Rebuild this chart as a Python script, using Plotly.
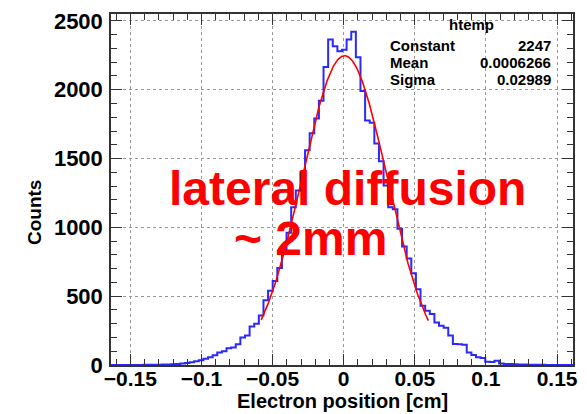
import numpy as np
import plotly.graph_objects as go

# Histogram definition (100 bins)
x_min = -0.1636
x_max = 0.1612
n_bins = 100

counts = [
    0, 0, 0, 0, 0, 0, 0, 1, 1, 2,          # n=-50..-41
    2, 3, 4, 6, 8, 10, 14, 20, 28, 35,     # n=-40..-31
    45, 57, 70, 90, 100, 122, 128, 150, 200, 215,   # n=-30..-21
    280, 300, 360, 470, 540, 610, 705, 830, 960, 1146,  # n=-20..-11
    1268, 1400, 1560, 1683, 1791, 1920, 2165, 2364, 2316, 2280,  # n=-10..-1
    2290, 2364, 2421, 2235, 1990, 1776, 1760, 1610, 1480, 1304,  # n=0..9
    1146, 1132, 989, 860, 774, 666, 550, 430, 394, 370,  # n=10..19
    308, 286, 270, 215, 152, 150, 148, 90, 72, 57,   # n=20..29
    50, 24, 21, 30, 10, 8, 7, 5, 4, 3,     # n=30..39
    2, 2, 1, 1, 0, 0, 0, 0, 0, 0,          # n=40..49
]
assert len(counts) == n_bins

# Gaussian fit parameters (stats box)
fit_constant = 2247
fit_mean = 0.0006266
fit_sigma = 0.02989
fit_range = [-0.058, 0.0595]

stat_names = ["Constant", "Mean", "Sigma"]
stat_values = ["2247", "0.0006266", "0.02989"]

edges = np.linspace(x_min, x_max, n_bins + 1)
step_y = counts + [counts[-1]]

xf = np.linspace(fit_range[0], fit_range[1], 300)
yf = fit_constant * np.exp(-0.5 * ((xf - fit_mean) / fit_sigma) ** 2)

fig = go.Figure()
fig.add_trace(go.Scatter(x=edges, y=step_y, mode="lines", line=dict(color="#2a2aff", width=2, shape="hv"),
                         hoverinfo="skip"))
fig.add_trace(go.Scatter(x=xf, y=yf, mode="lines", line=dict(color="#ff0000", width=1.6),
                         hoverinfo="skip"))

xtickfont = dict(family="Liberation Sans", size=21, color="black", weight="bold")
ytickfont = dict(family="Liberation Sans", size=22, color="black", weight="bold")

fig.update_layout(
    width=587, height=414,
    margin=dict(l=111, r=9, t=9, b=49),
    paper_bgcolor="white", plot_bgcolor="white",
    showlegend=False,
    xaxis=dict(range=[x_min, x_max], tick0=0, dtick=0.05, showline=True, linecolor="#333", linewidth=1.5,
               mirror="allticks", ticks="inside", ticklen=11, tickcolor="#333", tickwidth=1,
               showgrid=True, gridcolor="#999", griddash="dot", gridwidth=1, zeroline=False,
               tickfont=xtickfont, ticklabelstandoff=-6,
               minor=dict(ticks="inside", ticklen=6, dtick=0.01, tickcolor="#333", showgrid=False)),
    yaxis=dict(range=[0, 2550], tick0=0, dtick=500, showline=True, linecolor="#333", linewidth=1.5,
               mirror="allticks", ticks="inside", ticklen=11, tickcolor="#333", tickwidth=1,
               showgrid=True, gridcolor="#999", griddash="dot", gridwidth=1, zeroline=False,
               tickfont=ytickfont, ticklabelstandoff=2,
               minor=dict(ticks="inside", ticklen=6, dtick=100, tickcolor="#333", showgrid=False)),
)

ann = []
# axis titles
ann.append(dict(text="Electron position [cm]", xref="paper", yref="paper", x=(345 - 111) / 467, y=(365 - 402) / 356,
                xanchor="center", yanchor="middle", showarrow=False,
                font=dict(family="Liberation Sans", size=20, color="black", weight="bold")))
ann.append(dict(text="Counts", xref="paper", yref="paper", x=(33 - 111) / 467, y=(365 - 210) / 356,
                xanchor="center", yanchor="middle", showarrow=False, textangle=-90,
                font=dict(family="Liberation Sans", size=19, color="black", weight="bold")))
# stats box
sfont = dict(family="Liberation Sans", size=15, color="black", weight="bold")
ann.append(dict(text="htemp", xref="paper", yref="paper", x=(475 - 111) / 467, y=(365 - 20) / 356,
                xanchor="center", yanchor="middle", showarrow=False, font=sfont))
for i, (nm, val) in enumerate(zip(stat_names, stat_values)):
    yy = (365 - (41 + 17 * i)) / 356
    ann.append(dict(text=nm, xref="paper", yref="paper", x=(391 - 111) / 467, y=yy,
                    xanchor="left", yanchor="middle", showarrow=False, font=sfont))
    ann.append(dict(text=val, xref="paper", yref="paper", x=(558 - 111) / 467, y=yy,
                    xanchor="right", yanchor="middle", showarrow=False, font=sfont))
# red labels
rfont = dict(family="Liberation Sans", size=48, color="#ff0000", weight="bold")
ann.append(dict(text="lateral diffusion", xref="paper", yref="paper", x=(168 - 111) / 467, y=(365 - 186) / 356,
                xanchor="left", yanchor="middle", showarrow=False, font=rfont))
ann.append(dict(text="~ 2mm", xref="paper", yref="paper", x=(233 - 111) / 467, y=(365 - 237) / 356,
                xanchor="left", yanchor="middle", showarrow=False, font=rfont))
fig.update_layout(annotations=ann)

fig.write_html("out.html")
